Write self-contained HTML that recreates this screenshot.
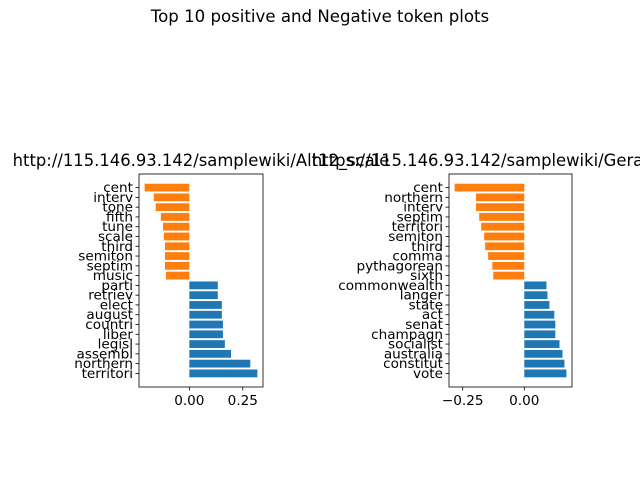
<!DOCTYPE html>
<html><head><meta charset="utf-8"><style>
html,body{margin:0;padding:0;background:#fff;}
svg{display:block;font-family:"DejaVu Sans","Liberation Sans",sans-serif;}
</style></head><body>
<svg id="chart" width="640" height="480" viewBox="0 0 640 480">
<text x="320" y="22" font-size="16.6" text-anchor="middle">Top 10 positive and Negative token plots</text>
</svg>
<script>
const leftLabels = ["territori","northern","assembl","legisl","liber","countri","august","elect","retriev","parti","music","septim","semiton","third","scale","tune","fifth","tone","interv","cent"];
const leftValues = [0.318,0.285,0.195,0.166,0.157,0.157,0.152,0.152,0.133,0.133,-0.109,-0.114,-0.114,-0.114,-0.119,-0.123,-0.133,-0.157,-0.166,-0.209];
const leftTicks = [0, 0.25];
const leftTickLabels = ["0.00","0.25"];
const rightLabels = ["vote","constitut","australia","socialist","champagn","senat","act","state","langer","commonwealth","sixth","pythagorean","comma","third","semiton","territori","septim","interv","northern","cent"];
const rightValues = [0.171,0.163,0.155,0.143,0.126,0.126,0.122,0.102,0.094,0.090,-0.126,-0.130,-0.147,-0.159,-0.163,-0.175,-0.183,-0.196,-0.196,-0.283];
const rightTicks = [-0.25, 0];
const rightTickLabels = ["\u22120.25","0.00"];
const NS = "http://www.w3.org/2000/svg";
const svg = document.getElementById('chart');
function mk(tag, attrs, parent){const e=document.createElementNS(NS,tag);for(const k in attrs)e.setAttribute(k,attrs[k]);(parent||svg).appendChild(e);return e;}
function panel(prefix, x0, x1, labels, values, ticks, tickLabels, title){
  const top=174, bot=387;
  const n=values.length;
  let mn=Math.min(0,...values), mx=Math.max(0,...values);
  const pad=(mx-mn)*0.05; mn-=pad; mx+=pad;
  const xs=v=>x0+(v-mn)/(mx-mn)*(x1-x0);
  const ylo=-0.4-0.99, yhi=(n-1)+0.4+0.99;
  const ys=i=>bot-(i-ylo)/(yhi-ylo)*(bot-top);
  const g=mk('g',{});
  
  
  values.forEach((v,i)=>{
    const a=xs(0), b=xs(v);
    const r=mk('rect',{x:Math.min(a,b),y:ys(i)-3.9,width:Math.abs(b-a),height:7.8,fill:v>=0?'#1f77b4':'#ff7f0e'},g);
    
    
    mk('line',{x1:x0-3.5,x2:x0,y1:ys(i),y2:ys(i),stroke:'#000','stroke-width':0.8},g);
    const t=mk('text',{x:x0-6,y:ys(i)+4.5,'font-size':13.6,'text-anchor':'end'},g);
    t.textContent=labels[i];
    
    
  });
  ticks.forEach((tv,i)=>{
    const x=xs(tv);
    mk('line',{x1:x,x2:x,y1:bot,y2:bot+3.5,stroke:'#000','stroke-width':0.8},g);
    const t=mk('text',{x:x,y:bot+18,'font-size':13.6,'text-anchor':'middle'},g);
    t.textContent=tickLabels[i];
    
    
  });
  const fr=mk('rect',{x:x0,y:top,width:x1-x0,height:bot-top,fill:'none',stroke:'#000','stroke-width':0.8},g);
  
  
  const tt=mk('text',{x:(x0+x1)/2,y:top-8,'font-size':16.4,'text-anchor':'middle'},g);
  tt.textContent=title;
  
  
}
panel('left',139,263,leftLabels,leftValues,leftTicks,leftTickLabels,"http://115.146.93.142/samplewiki/Alt12_scale");
panel('right',449,572,rightLabels,rightValues,rightTicks,rightTickLabels,"https://115.146.93.142/samplewiki/Gerard_Kenn");
</script>
</body></html>
